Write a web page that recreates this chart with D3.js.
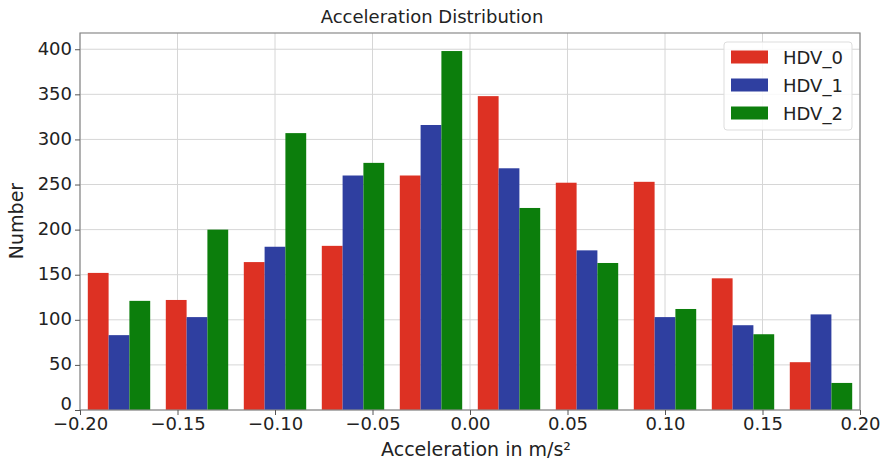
<!DOCTYPE html>
<html><head><meta charset="utf-8">
<script src="https://cdn.jsdelivr.net/npm/d3@7"></script>
<style>body{margin:0;background:#fff}text{font-family:"DejaVu Sans",sans-serif;fill:#222}</style>
</head><body><svg id="c" width="882" height="462"></svg>
<script>
const binEdges = [-0.20,-0.16,-0.12,-0.08,-0.04,0.00,0.04,0.08,0.12,0.16,0.20];
const seriesNames = ["HDV_0","HDV_1","HDV_2"];
const hdv0 = [152,122,164,182,260,348,252,253,146,53];
const hdv1 = [83,103,181,260,316,268,177,103,94,106];
const hdv2 = [121,200,307,274,398,224,163,112,84,30];
const xTicks = [-0.20,-0.15,-0.10,-0.05,0.00,0.05,0.10,0.15,0.20];
const yTicks = [0,50,100,150,200,250,300,350,400];
const colors = ["#dd3123","#2f3fa0","#0c7e0c"];
const series = [hdv0,hdv1,hdv2];

const svg = d3.select("#c");
const L=80,R=860,T=33,B=410;
const x = d3.scaleLinear().domain([-0.2,0.2]).range([L,R]);
const y = d3.scaleLinear().domain([0,418]).range([B,T]);
const minus = v => d3.format(".2f")(v).replace("-","\u2212");

// grid
svg.append("g").selectAll("line").data(xTicks).join("line")
  .attr("x1",d=>x(d)).attr("x2",d=>x(d)).attr("y1",T).attr("y2",B)
  .attr("stroke","#d6d6d6").attr("stroke-width",1);
svg.append("g").selectAll("line").data(yTicks).join("line")
  .attr("x1",L).attr("x2",R).attr("y1",d=>y(d)).attr("y2",d=>y(d))
  .attr("stroke","#d6d6d6").attr("stroke-width",1);

// bars
series.forEach((vals,si)=>{
  svg.append("g").selectAll("rect").data(vals).join("rect")
    .attr("x",(d,i)=>{const w=binEdges[i+1]-binEdges[i];return x(binEdges[i]+0.1*w+si*0.8*w/3);})
    .attr("width",(d,i)=>{const w=binEdges[i+1]-binEdges[i];return x(binEdges[i]+0.8*w/3)-x(binEdges[i]);})
    .attr("y",d=>y(d)).attr("height",d=>B-y(d))
    .attr("fill",colors[si]);
});

// frame
svg.append("rect").attr("x",L).attr("y",T).attr("width",R-L).attr("height",B-T)
  .attr("fill","none").attr("stroke","#8a8a8a").attr("stroke-width",1.2);

// axes
const xa = svg.append("g").attr("transform",`translate(0,${B})`)
  .call(d3.axisBottom(x).tickValues(xTicks).tickFormat(minus).tickSize(5).tickPadding(2));
const ya = svg.append("g").attr("transform",`translate(${L},0)`)
  .call(d3.axisLeft(y).tickValues(yTicks).tickSize(5).tickPadding(3));
[xa,ya].forEach(a=>{a.select(".domain").remove();
  a.selectAll("line").attr("stroke","#555");
  a.selectAll("text").attr("font-size",18).attr("fill","#222").style("font-family","DejaVu Sans");});
ya.selectAll("text").attr("dy","0.28em");
ya.selectAll("text").filter(d=>d===0).attr("dy","-0.05em");

// labels
svg.append("text").attr("x",432).attr("y",23).attr("text-anchor","middle").attr("font-size",18).text("Acceleration Distribution");
svg.append("text").attr("x",476).attr("y",456).attr("text-anchor","middle").attr("font-size",19).text("Acceleration in m/s²");
svg.append("text").attr("transform","translate(23,221) rotate(-90)").attr("text-anchor","middle").attr("font-size",19).text("Number");

// legend
const lg = svg.append("g");
lg.append("rect").attr("x",724).attr("y",42).attr("width",128).attr("height",88).attr("rx",3)
  .attr("fill","#fff").attr("fill-opacity",0.85).attr("stroke","#ddd");
seriesNames.forEach((n,i)=>{
  const cy = 57 + i*28;
  lg.append("rect").attr("x",731).attr("y",cy-6.5).attr("width",37).attr("height",13).attr("fill",colors[i]);
  lg.append("text").attr("x",783).attr("y",cy+6.5).attr("font-size",18).text(n);
});
</script></body></html>
